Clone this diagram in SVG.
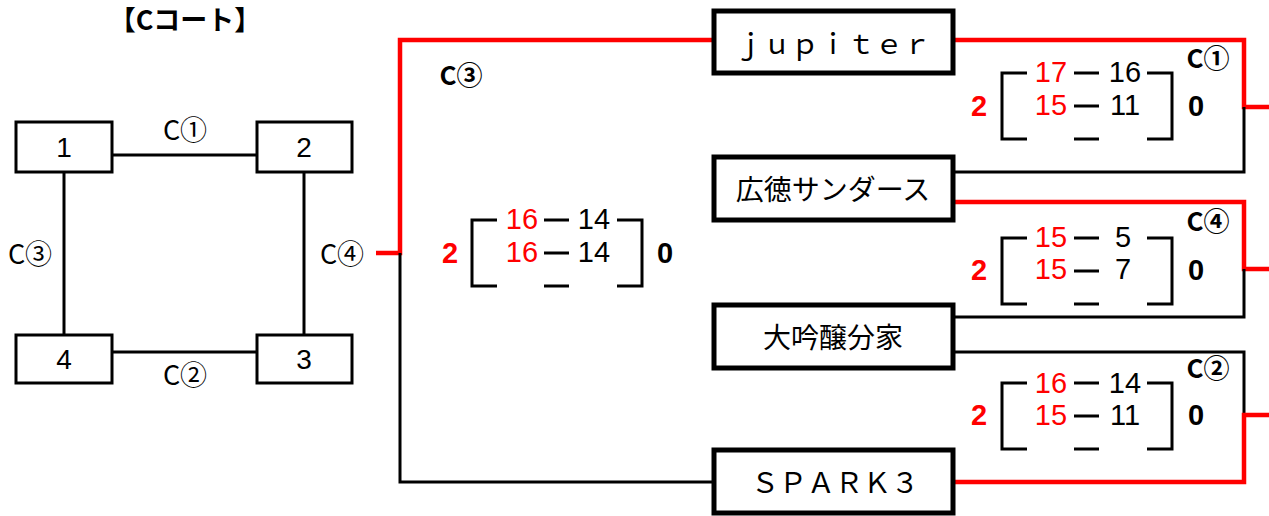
<svg xmlns="http://www.w3.org/2000/svg" xmlns:xlink="http://www.w3.org/1999/xlink" width="1269" height="516" viewBox="0 0 1269 516">
<style>
.bg{fill:#fff}
.sbox{fill:#fff;stroke:#000;stroke-width:3}
.tbox{fill:#fff;stroke:#000;stroke-width:5}
.ln{fill:none;stroke:#000;stroke-width:3}
.red{fill:none;stroke:#f00;stroke-width:4.5}
.brk{fill:none;stroke:#000;stroke-width:3}
.num{font-family:"Liberation Sans",Arial,sans-serif;font-size:28px;text-anchor:middle;dominant-baseline:central}
.lbl{font-family:"Noto Sans CJK JP",sans-serif;font-size:27px;text-anchor:middle;dominant-baseline:central}
.clb{font-family:"Noto Sans CJK JP",sans-serif;font-size:26px;font-weight:bold;text-anchor:middle;dominant-baseline:central}
.team{font-family:"Noto Sans CJK JP",sans-serif;font-size:28px;text-anchor:middle;dominant-baseline:central}
.sc{font-family:"Liberation Sans",Arial,sans-serif;font-size:29px;text-anchor:middle;dominant-baseline:central}
.w{fill:#f00}
.l{fill:#000}
.tot{font-family:"Liberation Sans",Arial,sans-serif;font-size:29px;font-weight:bold;text-anchor:middle;dominant-baseline:central}
</style>
<defs>
<path id="bracket" d="M25,0H0V66H25M72,0H97M72,33H97M72,66H97M145,0H170V66H145" class="brk"/>
</defs>
<rect class="bg" x="0" y="0" width="1269" height="516"/>
<text class="clb" x="185" y="18" style="font-size:27px">【Cコート】</text>

<g id="connectors">
<path class="ln" d="M113,155H257"/>
<path class="ln" d="M113,352H257"/>
<path class="ln" d="M64,172V335"/>
<path class="ln" d="M304,172V335"/>
<path class="red" d="M376,253H400V40H712"/>
<path class="ln" d="M400,253V482H712"/>
<path class="red" d="M955,40H1244V107H1269"/>
<path class="ln" d="M955,172H1244V107"/>
<path class="red" d="M955,202H1244V269H1269"/>
<path class="ln" d="M955,317H1244V269"/>
<path class="ln" d="M955,352H1244V415"/>
<path class="red" d="M955,482H1244V415H1269"/>
</g>

<g id="court-labels">
<text class="lbl" x="185" y="128">C①</text>
<text class="lbl" x="30" y="252">C③</text>
<text class="lbl" x="342" y="252">C④</text>
<text class="lbl" x="185" y="373">C②</text>
</g>

<g id="court1"><rect class="sbox" x="16" y="122" width="96" height="50"/><text class="num" x="64" y="147">1</text></g>
<g id="court2"><rect class="sbox" x="257" y="122" width="95" height="50"/><text class="num" x="304" y="147">2</text></g>
<g id="court4"><rect class="sbox" x="16" y="335" width="96" height="48"/><text class="num" x="64" y="359">4</text></g>
<g id="court3"><rect class="sbox" x="257" y="335" width="95" height="48"/><text class="num" x="304" y="359">3</text></g>

<g id="team-jupiter"><rect class="tbox" x="714" y="11" width="239" height="62"/><text class="team" x="833" y="42">ｊｕｐｉｔｅｒ</text></g>
<g id="team-hirotoku"><rect class="tbox" x="714" y="157" width="239" height="63"/><text class="team" x="833" y="188">広徳サンダース</text></g>
<g id="team-daiginjo"><rect class="tbox" x="714" y="305" width="239" height="63"/><text class="team" x="833" y="336">大吟醸分家</text></g>
<g id="team-spark3"><rect class="tbox" x="714" y="450" width="239" height="63"/><text class="team" x="835" y="481">ＳＰＡＲＫ３</text></g>

<g id="score-final">
<text class="clb" x="461" y="73">C③</text>
<use xlink:href="#bracket" x="472" y="220"/>
<text class="sc w" x="522" y="219">16</text><text class="sc l" x="594" y="219">14</text>
<text class="sc w" x="522" y="252">16</text><text class="sc l" x="594" y="252">14</text>
<text class="tot w" x="450" y="253">2</text><text class="tot l" x="665" y="253">0</text>
</g>

<g id="score-c1">
<text class="clb" x="1208" y="56">C①</text>
<use xlink:href="#bracket" x="1002" y="73"/>
<text class="sc w" x="1051" y="72">17</text><text class="sc l" x="1125" y="72">16</text>
<text class="sc w" x="1051" y="105">15</text><text class="sc l" x="1125" y="105">11</text>
<text class="tot w" x="979" y="106">2</text><text class="tot l" x="1196" y="106">0</text>
</g>

<g id="score-c4">
<text class="clb" x="1208" y="219">C④</text>
<use xlink:href="#bracket" x="1002" y="238"/>
<text class="sc w" x="1051" y="237">15</text><text class="sc l" x="1123" y="237">5</text>
<text class="sc w" x="1051" y="269">15</text><text class="sc l" x="1123" y="269">7</text>
<text class="tot w" x="979" y="270">2</text><text class="tot l" x="1196" y="270">0</text>
</g>

<g id="score-c2">
<text class="clb" x="1208" y="366">C②</text>
<use xlink:href="#bracket" x="1002" y="383"/>
<text class="sc w" x="1051" y="383">16</text><text class="sc l" x="1125" y="383">14</text>
<text class="sc w" x="1051" y="415">15</text><text class="sc l" x="1125" y="415">11</text>
<text class="tot w" x="979" y="415">2</text><text class="tot l" x="1196" y="415">0</text>
</g>
</svg>
